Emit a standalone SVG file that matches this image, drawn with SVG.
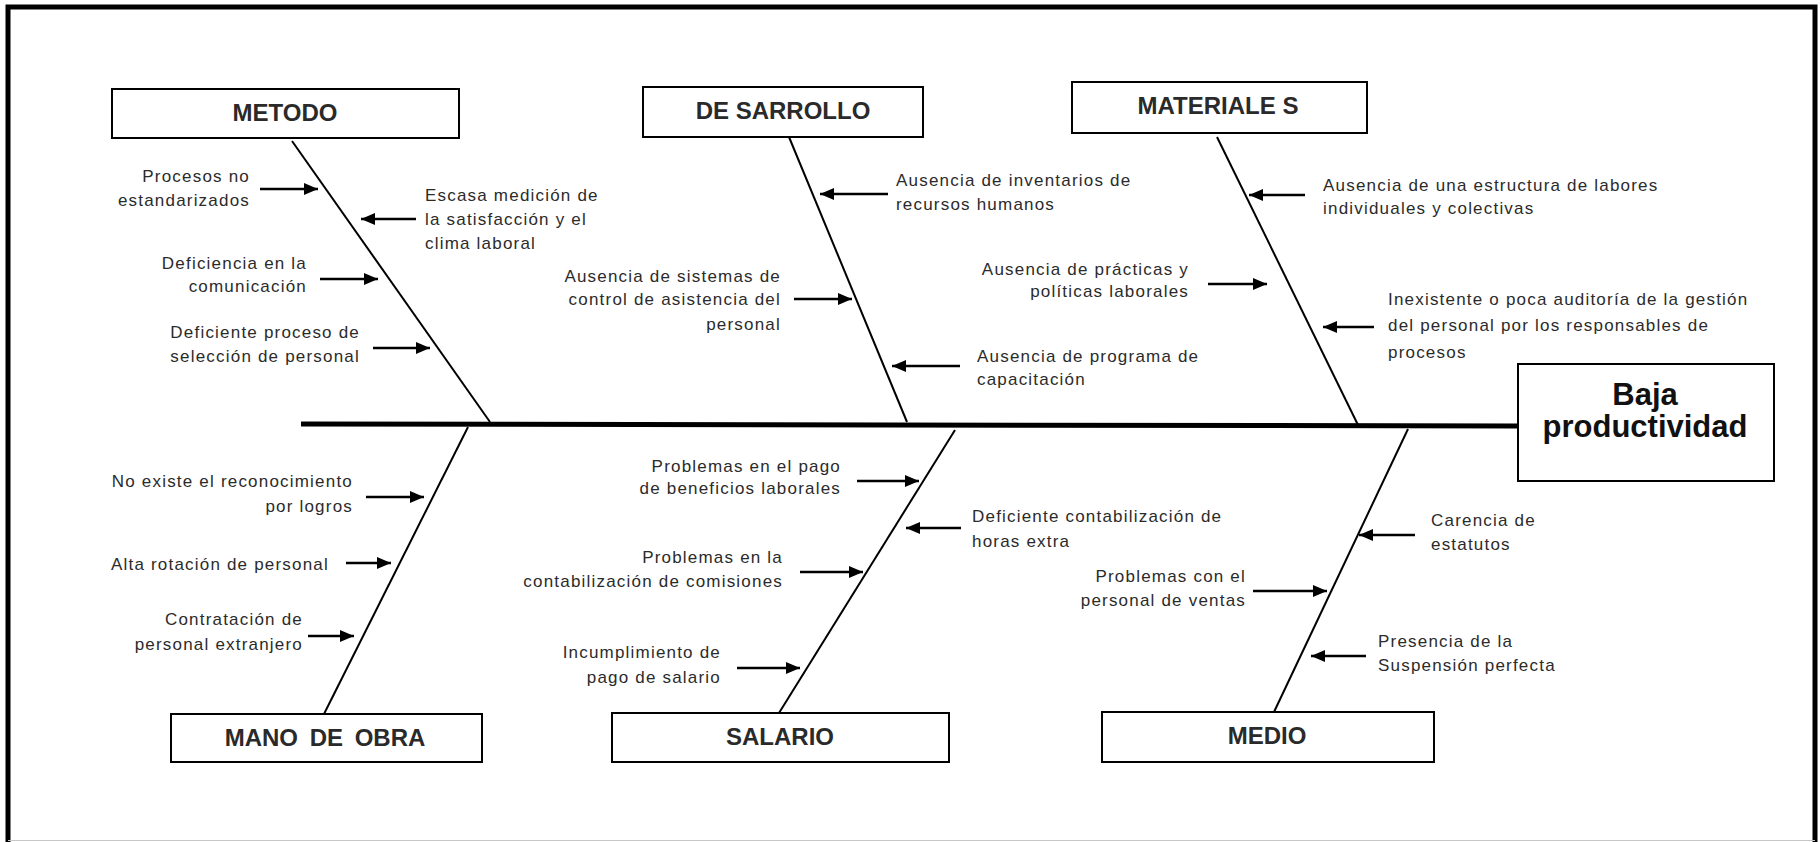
<svg xmlns="http://www.w3.org/2000/svg" width="1820" height="842" viewBox="0 0 1820 842">
  <style>
    .box { fill: #ffffff; stroke: #000000; stroke-width: 2; }
    .cat { font-family: "Liberation Sans", Arial, sans-serif; font-size: 24px; font-weight: bold; fill: #2a2a2a; text-anchor: middle; }
    .eff { font-family: "Liberation Sans", Arial, sans-serif; font-size: 31px; font-weight: bold; fill: #111111; text-anchor: middle; }
    .c { font-family: "Liberation Sans", Arial, sans-serif; font-size: 17px; letter-spacing: 1.2px; fill: #2b2b2b; }
    .r { text-anchor: end; }
    .bone { stroke: #000000; stroke-width: 2; fill: none; }
    .spine { stroke: #000000; stroke-width: 5; fill: none; }
    .arr { stroke: #000000; stroke-width: 2.5; fill: none; marker-end: url(#head); }
  </style>
  <defs>
    <marker id="head" markerUnits="userSpaceOnUse" markerWidth="14" markerHeight="12" refX="14" refY="6" orient="auto">
      <path d="M0,0 L14,6 L0,12 Z" fill="#000000"/>
    </marker>
  </defs>

  <rect x="0" y="0" width="1820" height="842" fill="#ffffff"/>
  <!-- page frame: heavy on three sides, hairline at the bottom -->
  <path d="M8,842 V7 H1815 V842" fill="none" stroke="#000000" stroke-width="5"/>
  <line x1="8" y1="840.5" x2="1815" y2="840.5" stroke="#c8c8c8" stroke-width="1"/>

  <!-- spine, bones and cause arrows -->
  <g id="connectors">
    <line class="spine" x1="301" y1="424" x2="1518" y2="426"/>
    <line class="bone" x1="292" y1="141" x2="490" y2="422"/>
    <line class="bone" x1="789" y1="137" x2="907" y2="422"/>
    <line class="bone" x1="1217" y1="137" x2="1358" y2="425"/>
    <line class="bone" x1="468" y1="427" x2="324" y2="714"/>
    <line class="bone" x1="955" y1="430" x2="779" y2="713"/>
    <line class="bone" x1="1408" y1="429" x2="1274" y2="712"/>

    <!-- METODO -->
    <line class="arr" x1="260" y1="189" x2="318" y2="189"/>
    <line class="arr" x1="416" y1="219" x2="361" y2="219"/>
    <line class="arr" x1="320" y1="279" x2="378" y2="279"/>
    <line class="arr" x1="373" y1="348" x2="430" y2="348"/>
    <!-- DESARROLLO -->
    <line class="arr" x1="888" y1="194" x2="820" y2="194"/>
    <line class="arr" x1="794" y1="299" x2="852" y2="299"/>
    <line class="arr" x1="960" y1="366" x2="892" y2="366"/>
    <!-- MATERIALES -->
    <line class="arr" x1="1305" y1="195" x2="1249" y2="195"/>
    <line class="arr" x1="1208" y1="284" x2="1267" y2="284"/>
    <line class="arr" x1="1374" y1="327" x2="1323" y2="327"/>
    <!-- MANO DE OBRA -->
    <line class="arr" x1="366" y1="497" x2="424" y2="497"/>
    <line class="arr" x1="346" y1="563" x2="391" y2="563"/>
    <line class="arr" x1="308" y1="636" x2="354" y2="636"/>
    <!-- SALARIO -->
    <line class="arr" x1="857" y1="481" x2="919" y2="481"/>
    <line class="arr" x1="961" y1="528" x2="906" y2="528"/>
    <line class="arr" x1="800" y1="572" x2="863" y2="572"/>
    <line class="arr" x1="737" y1="668" x2="800" y2="668"/>
    <!-- MEDIO -->
    <line class="arr" x1="1415" y1="535" x2="1359" y2="535"/>
    <line class="arr" x1="1253" y1="591" x2="1327" y2="591"/>
    <line class="arr" x1="1366" y1="656" x2="1311" y2="656"/>
  </g>

  <!-- category boxes -->
  <g id="metodo">
    <rect class="box" x="112" y="89" width="347" height="49"/>
    <text class="cat" x="285" y="121">METODO</text>
  </g>
  <g id="desarrollo">
    <rect class="box" x="643" y="87" width="280" height="50"/>
    <text class="cat" x="783" y="119">DE SARROLLO</text>
  </g>
  <g id="materiales">
    <rect class="box" x="1072" y="82" width="295" height="51"/>
    <text class="cat" x="1218" y="114">MATERIALE S</text>
  </g>
  <g id="mano-de-obra">
    <rect class="box" x="171" y="714" width="311" height="48"/>
    <text class="cat" x="325" y="746" word-spacing="5">MANO DE OBRA</text>
  </g>
  <g id="salario">
    <rect class="box" x="612" y="713" width="337" height="49"/>
    <text class="cat" x="780" y="745">SALARIO</text>
  </g>
  <g id="medio">
    <rect class="box" x="1102" y="712" width="332" height="50"/>
    <text class="cat" x="1267" y="744">MEDIO</text>
  </g>

  <!-- effect -->
  <g id="baja-productividad">
    <rect class="box" x="1518" y="364" width="256" height="117" stroke-width="2.5"/>
    <text class="eff" x="1645" y="405">Baja</text>
    <text class="eff" x="1645" y="437">productividad</text>
  </g>

  <!-- causes: METODO -->
  <g id="procesos-no-estandarizados">
    <text class="c r" x="250" y="182">Procesos no</text>
    <text class="c r" x="250" y="206">estandarizados</text>
  </g>
  <g id="escasa-medicion">
    <text class="c" x="425" y="201">Escasa medición de</text>
    <text class="c" x="425" y="225">la satisfacción y el</text>
    <text class="c" x="425" y="249">clima laboral</text>
  </g>
  <g id="deficiencia-comunicacion">
    <text class="c r" x="307" y="269">Deficiencia en la</text>
    <text class="c r" x="307" y="292">comunicación</text>
  </g>
  <g id="deficiente-seleccion">
    <text class="c r" x="360" y="338">Deficiente proceso de</text>
    <text class="c r" x="360" y="362">selección de personal</text>
  </g>

  <!-- causes: DESARROLLO -->
  <g id="inventarios-rrhh">
    <text class="c" x="896" y="186">Ausencia de inventarios de</text>
    <text class="c" x="896" y="210">recursos humanos</text>
  </g>
  <g id="control-asistencia">
    <text class="c r" x="781" y="282">Ausencia de sistemas de</text>
    <text class="c r" x="781" y="305">control de asistencia del</text>
    <text class="c r" x="781" y="330">personal</text>
  </g>
  <g id="programa-capacitacion">
    <text class="c" x="977" y="362">Ausencia de programa de</text>
    <text class="c" x="977" y="385">capacitación</text>
  </g>

  <!-- causes: MATERIALES -->
  <g id="estructura-labores">
    <text class="c" x="1323" y="191">Ausencia de una estructura de labores</text>
    <text class="c" x="1323" y="214">individuales y colectivas</text>
  </g>
  <g id="practicas-politicas">
    <text class="c r" x="1189" y="275">Ausencia de prácticas y</text>
    <text class="c r" x="1189" y="297">políticas laborales</text>
  </g>
  <g id="auditoria-gestion">
    <text class="c" x="1388" y="305">Inexistente o poca auditoría de la gestión</text>
    <text class="c" x="1388" y="331">del personal por los responsables de</text>
    <text class="c" x="1388" y="358">procesos</text>
  </g>

  <!-- causes: MANO DE OBRA -->
  <g id="reconocimiento-logros">
    <text class="c r" x="353" y="487">No existe el reconocimiento</text>
    <text class="c r" x="353" y="512">por logros</text>
  </g>
  <g id="alta-rotacion">
    <text class="c r" x="329" y="570">Alta rotación de personal</text>
  </g>
  <g id="personal-extranjero">
    <text class="c r" x="303" y="625">Contratación de</text>
    <text class="c r" x="303" y="650">personal extranjero</text>
  </g>

  <!-- causes: SALARIO -->
  <g id="beneficios-laborales">
    <text class="c r" x="841" y="472">Problemas en el pago</text>
    <text class="c r" x="841" y="494">de beneficios laborales</text>
  </g>
  <g id="horas-extra">
    <text class="c" x="972" y="522">Deficiente contabilización de</text>
    <text class="c" x="972" y="547">horas extra</text>
  </g>
  <g id="comisiones">
    <text class="c r" x="783" y="563">Problemas en la</text>
    <text class="c r" x="783" y="587">contabilización de comisiones</text>
  </g>
  <g id="pago-salario">
    <text class="c r" x="721" y="658">Incumplimiento de</text>
    <text class="c r" x="721" y="683">pago de salario</text>
  </g>

  <!-- causes: MEDIO -->
  <g id="estatutos">
    <text class="c" x="1431" y="526">Carencia de</text>
    <text class="c" x="1431" y="550">estatutos</text>
  </g>
  <g id="personal-ventas">
    <text class="c r" x="1246" y="582">Problemas con el</text>
    <text class="c r" x="1246" y="606">personal de ventas</text>
  </g>
  <g id="suspension-perfecta">
    <text class="c" x="1378" y="647">Presencia de la</text>
    <text class="c" x="1378" y="671">Suspensión perfecta</text>
  </g>
</svg>
